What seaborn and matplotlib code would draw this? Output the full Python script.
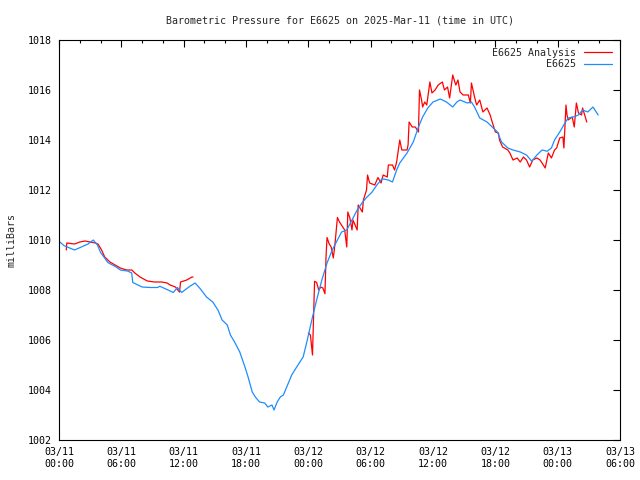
import matplotlib
matplotlib.use("Agg")
import matplotlib.pyplot as plt
import matplotlib.dates as mdates
from matplotlib.lines import Line2D
import seaborn as sns
import pandas as pd

# hours after 2025-03-11 00:00 UTC
obs_hours = [0.0, 0.5, 1.5, 2.2, 2.8, 3.3, 3.7, 4.0, 4.4, 4.7, 5.5, 5.9, 6.6, 7.0, 7.1,
             8.0, 8.8, 9.5, 9.7, 10.5, 11.0, 11.4, 11.8, 12.6, 13.1, 13.6, 14.2, 14.8,
             15.3, 15.7, 16.2, 16.5, 16.9, 17.4, 17.9, 18.2, 18.6, 18.9, 19.3, 19.8,
             20.1, 20.5, 20.7, 21.0, 21.3, 21.6, 22.0, 22.4, 22.7, 23.0, 23.5, 23.9,
             24.4, 24.8, 25.3, 25.8, 26.3, 26.8, 27.2, 27.7, 28.2, 28.7, 29.2, 29.6,
             30.1, 30.6, 31.1, 31.7, 32.1, 32.5, 32.8, 33.5, 34.1, 34.6, 35.0, 35.5,
             36.0, 36.7, 37.3, 37.9, 38.3, 38.6, 39.3, 39.7, 40.0, 40.5, 41.2, 41.7,
             42.2, 42.6, 43.2, 43.7, 44.4, 45.0, 45.5, 46.0, 46.5, 47.0, 47.4, 47.7,
             48.2, 48.7, 49.0, 49.5, 50.0, 50.4, 50.9, 51.4, 51.9]
obs_mbar = [1009.95, 1009.77, 1009.6, 1009.73, 1009.84, 1010.0, 1009.8, 1009.5, 1009.28,
            1009.1, 1008.92, 1008.8, 1008.76, 1008.68, 1008.3, 1008.12, 1008.1, 1008.1,
            1008.15, 1008.0, 1007.9, 1008.1, 1007.9, 1008.15, 1008.28, 1008.05, 1007.72,
            1007.52, 1007.2, 1006.8, 1006.6, 1006.2, 1005.92, 1005.52, 1004.92, 1004.52,
            1003.92, 1003.72, 1003.52, 1003.48, 1003.32, 1003.4, 1003.2, 1003.52, 1003.72,
            1003.8, 1004.2, 1004.6, 1004.8, 1005.0, 1005.32, 1006.0, 1006.92, 1007.6,
            1008.4, 1009.08, 1009.6, 1010.0, 1010.32, 1010.4, 1010.8, 1011.2, 1011.5,
            1011.7, 1011.9, 1012.2, 1012.45, 1012.4, 1012.32, 1012.8, 1013.08, 1013.48,
            1013.92, 1014.52, 1014.92, 1015.28, 1015.52, 1015.64, 1015.52, 1015.32,
            1015.52, 1015.6, 1015.48, 1015.52, 1015.32, 1014.88, 1014.72, 1014.52,
            1014.32, 1013.92, 1013.68, 1013.6, 1013.52, 1013.4, 1013.15, 1013.4, 1013.6,
            1013.55, 1013.68, 1014.0, 1014.32, 1014.68, 1014.88, 1014.92, 1015.0,
            1015.2, 1015.12, 1015.32, 1015.0]

ana_hours_1 = [0.7, 0.75, 1.5, 2.0, 2.5, 3.0, 3.5, 3.75, 4.1, 4.4, 4.9, 5.4, 5.9, 6.5,
               7.0, 7.3, 7.8, 8.5, 9.2, 9.9, 10.4, 10.7, 11.2, 11.6, 11.7, 12.3, 12.8, 12.9]
ana_mbar_1 = [1009.6, 1009.88, 1009.84, 1009.92, 1009.96, 1009.92, 1009.88, 1009.84,
              1009.6, 1009.32, 1009.12, 1009.0, 1008.88, 1008.8, 1008.8, 1008.68, 1008.52,
              1008.36, 1008.32, 1008.32, 1008.28, 1008.2, 1008.12, 1007.92, 1008.32,
              1008.4, 1008.52, 1008.52]

ana_hours_2 = [24.0, 24.2, 24.4, 24.6, 24.8, 25.0, 25.2, 25.4, 25.6, 25.7, 25.8, 26.0,
               26.2, 26.4, 26.5, 26.6, 26.8, 27.0, 27.5, 27.7, 27.8, 28.0, 28.2, 28.3,
               28.7, 28.8, 29.2, 29.3, 29.6, 29.7, 29.9, 30.4, 30.7, 31.0, 31.2, 31.6,
               31.7, 32.1, 32.3, 32.5, 32.8, 33.0, 33.5, 33.6, 33.7, 34.0, 34.3, 34.6,
               34.7, 34.9, 35.0, 35.2, 35.4, 35.7, 35.9, 36.2, 36.5, 36.9, 37.1, 37.4,
               37.6, 37.9, 38.1, 38.2, 38.4, 38.6, 38.9, 39.4, 39.6, 39.7, 40.0, 40.2,
               40.5, 40.8, 41.2, 41.5, 41.7, 42.0, 42.3, 42.4, 42.7, 43.2, 43.4, 43.7,
               44.1, 44.4, 44.7, 45.0, 45.3, 45.6, 46.0, 46.3, 46.5, 46.8, 47.1, 47.4,
               47.7, 47.9, 48.2, 48.5, 48.6, 48.8, 48.9, 49.0, 49.4, 49.6, 49.8, 50.0,
               50.3, 50.4, 50.6, 50.8]
ana_mbar_2 = [1006.28, 1006.2, 1005.4, 1008.35, 1008.3, 1008.0, 1008.12, 1008.08, 1007.85,
              1009.3, 1010.1, 1009.85, 1009.72, 1009.28, 1009.6, 1010.0, 1010.9, 1010.72,
              1010.4, 1009.72, 1011.12, 1010.88, 1010.4, 1010.8, 1010.4, 1011.4, 1011.12,
              1011.6, 1012.0, 1012.6, 1012.28, 1012.2, 1012.5, 1012.28, 1012.6, 1012.52,
              1013.0, 1013.0, 1012.8, 1013.12, 1014.0, 1013.6, 1013.6, 1013.8, 1014.72,
              1014.52, 1014.52, 1014.32, 1016.0, 1015.6, 1015.32, 1015.52, 1015.4, 1016.32,
              1015.88, 1016.0, 1016.2, 1016.32, 1016.0, 1016.12, 1015.68, 1016.6, 1016.32,
              1016.2, 1016.4, 1015.92, 1015.8, 1015.8, 1015.48, 1016.28, 1015.72, 1015.4,
              1015.6, 1015.12, 1015.28, 1015.0, 1014.72, 1014.32, 1014.28, 1014.0, 1013.72,
              1013.6, 1013.48, 1013.2, 1013.28, 1013.12, 1013.32, 1013.2, 1012.92, 1013.2,
              1013.28, 1013.2, 1013.08, 1012.88, 1013.48, 1013.28, 1013.6, 1013.68, 1014.08,
              1014.12, 1013.68, 1015.4, 1015.0, 1014.8, 1014.92, 1014.52, 1015.48, 1015.08,
              1015.0, 1015.28, 1015.0, 1014.72]

start = pd.Timestamp("2025-03-11 00:00")


def to_time(hours):
    return start + pd.to_timedelta(hours, unit="h")


obs = pd.DataFrame({"time": to_time(obs_hours), "mbar": obs_mbar})
ana = pd.concat([
    pd.DataFrame({"time": to_time(ana_hours_1), "mbar": ana_mbar_1, "seg": 1}),
    pd.DataFrame({"time": to_time(ana_hours_2), "mbar": ana_mbar_2, "seg": 2}),
])

sns.set_style("white")
plt.rcParams["font.family"] = ["DejaVu Sans Mono"]
plt.rcParams["font.size"] = 7.2

red = "#ff0000"
blue = "#1e8cff"

fig = plt.figure(figsize=(6.4, 4.8), dpi=100)
ax = fig.add_axes([59 / 640, 40 / 480, 561 / 640, 400 / 480])

sns.lineplot(data=ana, x="time", y="mbar", units="seg", estimator=None,
             color=red, linewidth=0.9, ax=ax)
sns.lineplot(data=obs, x="time", y="mbar", color=blue, linewidth=0.9, ax=ax)

ax.set_xlim(start, start + pd.Timedelta(hours=54))
ax.set_ylim(1002, 1018)
ax.set_yticks(range(1002, 1019, 2))
ax.xaxis.set_major_locator(mdates.HourLocator(byhour=[0, 6, 12, 18]))
ax.xaxis.set_minor_locator(mdates.HourLocator(interval=2))
ax.xaxis.set_major_formatter(mdates.DateFormatter("%m/%d\n%H:%M"))
ax.tick_params(which="both", direction="in", top=True, right=True,
               width=0.8, colors="black", labelsize=7.2, pad=5)
ax.tick_params(which="major", length=5)
ax.tick_params(which="minor", length=2.5)
for s in ax.spines.values():
    s.set_color("black")
    s.set_linewidth(0.8)

ax.set_xlabel("")
ax.set_ylabel("milliBars", fontsize=7.2, labelpad=8)
ax.set_title("Barometric Pressure for E6625 on 2025-Mar-11 (time in UTC)",
             fontsize=7.2, pad=12)

handles = [Line2D([], [], color=red, linewidth=0.9),
           Line2D([], [], color=blue, linewidth=0.9)]
ax.legend(handles, ["E6625 Analysis", "E6625"], loc="upper right",
          frameon=False, markerfirst=False, handlelength=2.8,
          handletextpad=0.8, labelspacing=0.15, borderaxespad=0.4, fontsize=7.2)

fig.savefig("out.png", dpi=100)
